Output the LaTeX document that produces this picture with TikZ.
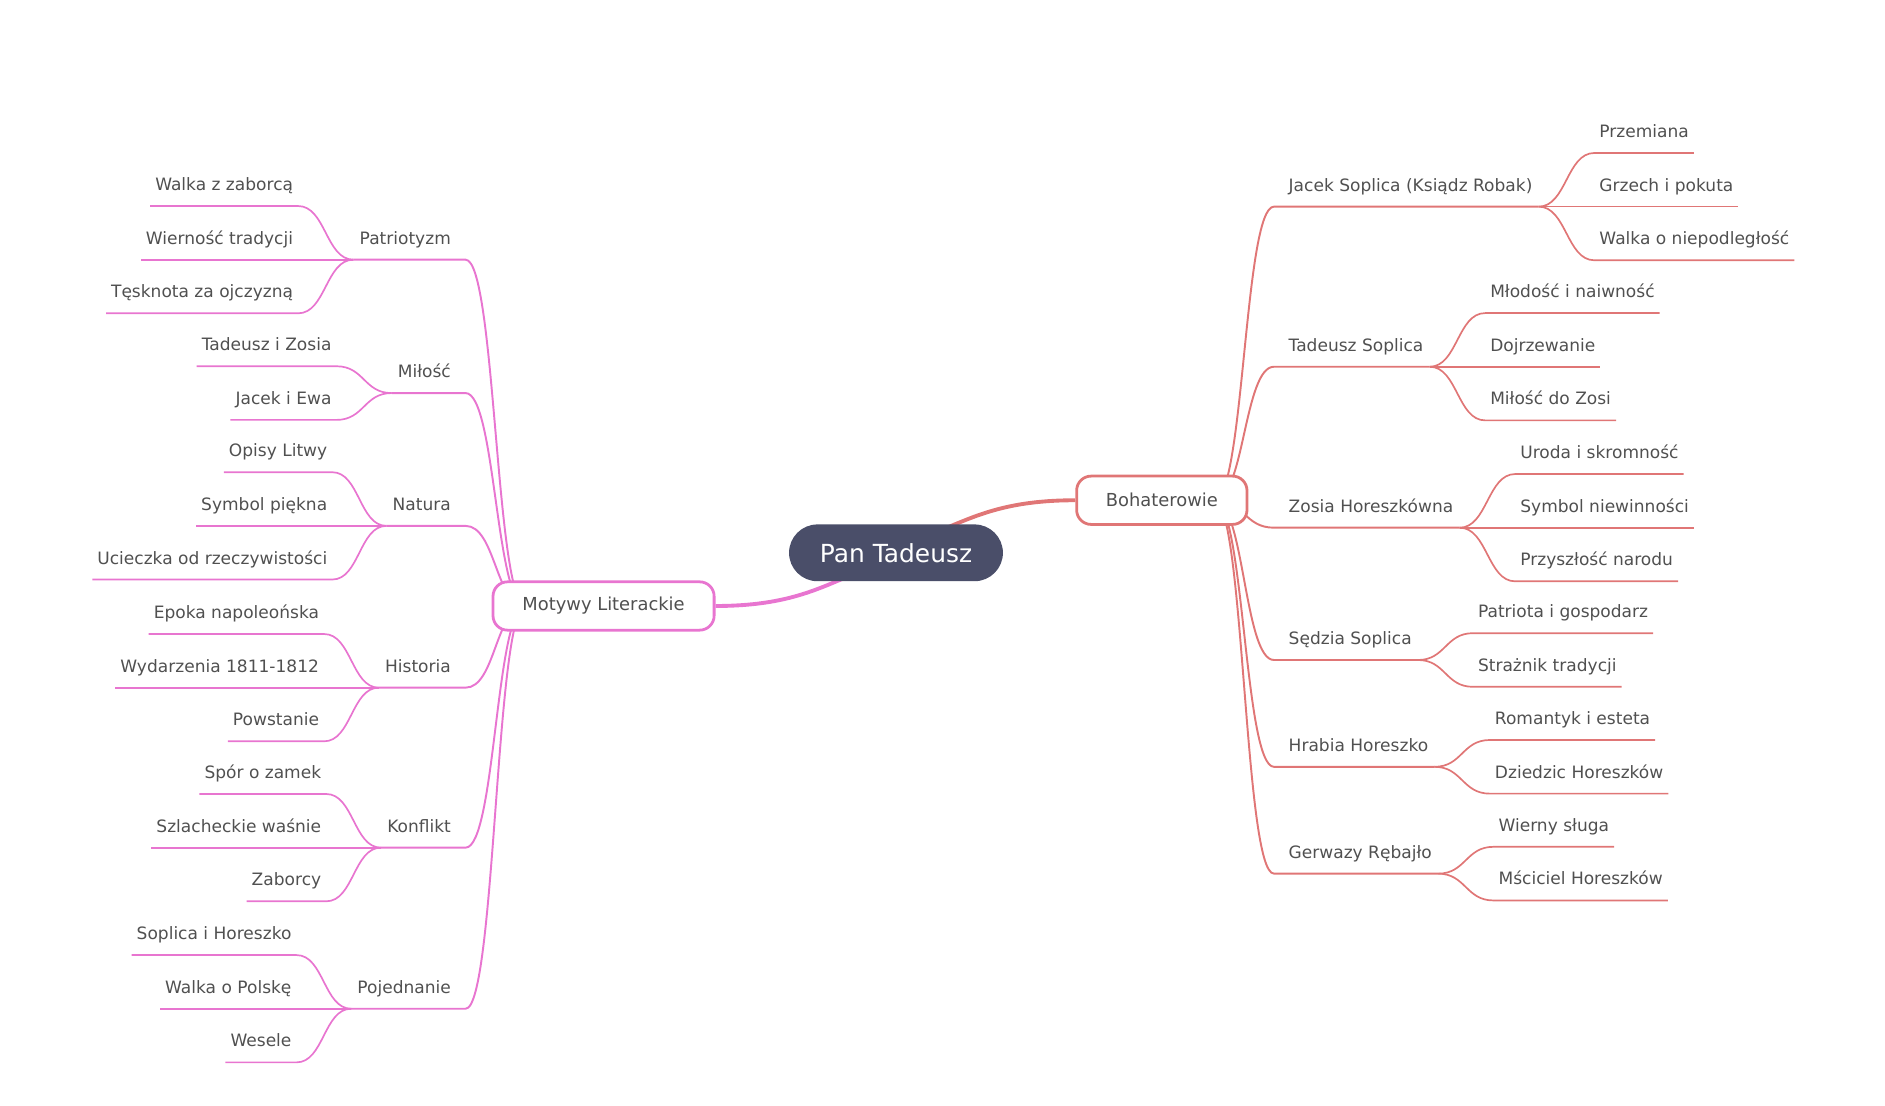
\documentclass[tikz,border=0pt]{standalone}
\usepackage{fontspec}
\setmainfont{DejaVu Sans}
\usetikzlibrary{calc,backgrounds}

\definecolor{rootfill}{RGB}{74,78,105}
\definecolor{heroline}{RGB}{224,118,118}
\definecolor{motifline}{RGB}{232,117,208}
\definecolor{labelgray}{RGB}{80,80,80}

\tikzset{
  mlink/.style={to path={let \p1=(\tikztostart), \p2=(\tikztotarget) in
    .. controls ({(\x1+\x2)/2},\y1) and ({(\x1+\x2)/2},\y2) .. (\tikztotarget)}}
}

\begin{document}
\begin{tikzpicture}[
		x=1pt, y=-1pt,
		every node/.style={text=labelgray, font=\fontsize{14.1}{16}\selectfont},
		leaf/.style={inner xsep=4pt, inner ysep=0pt, text height=10pt, text depth=12.6pt},
		topic/.style={leaf, inner xsep=5pt},
		branchbox/.style={draw, fill=white, line width=2.3pt, rounded corners=12pt, minimum height=40pt, font=\fontsize{14.8}{17}\selectfont},
		hero/.style={heroline, line width=1.6pt},
		motif/.style={motifline, line width=1.6pt}
	]
  \useasboundingbox (0,0) rectangle (1560,915.3);
  \node (root) [fill=rootfill, text=white, font=\fontsize{20.6}{24}\selectfont, rounded corners=23.5pt, minimum width=177pt, minimum height=47pt] at (741.5,457.5) {Pan Tadeusz};
  \node (bohat) [branchbox, draw=heroline, minimum width=141pt] at (961.5,414) {Bohaterowie};
  \node (motywy) [branchbox, draw=motifline, minimum width=183pt] at (499.5,501.5) {Motywy Literackie};
  \coordinate (rootR) at (682,457.5);
  \coordinate (rootL) at (800,457.5);
  \coordinate (bsrc) at (1005,414);
  \coordinate (msrc) at (435,501.5);
  % Bohaterowie
  \node (jacek) [topic, anchor=south west] at (1061.3,171) {Jacek Soplica (Ksiądz Robak)};
  \node (tadeusz) [topic, anchor=south west] at (1061.3,303.5) {Tadeusz Soplica};
  \node (zosia) [topic, anchor=south west] at (1061.3,436.7) {Zosia Horeszkówna};
  \node (sedzia) [topic, anchor=south west] at (1061.3,546.2) {Sędzia Soplica};
  \node (hrabia) [topic, anchor=south west] at (1061.3,634.6) {Hrabia Horeszko};
  \node (gerwazy) [topic, anchor=south west] at (1061.3,723) {Gerwazy Rębajło};
  \node (przem) [leaf, anchor=south west] at (1319.5,126.6) {Przemiana};
  \node (grzech) [leaf, anchor=south west] at (1319.5,171) {Grzech i pokuta};
  \node (walkan) [leaf, anchor=south west] at (1319.5,215.4) {Walka o niepodległość};
  \node (mlodosc) [leaf, anchor=south west] at (1229.1,259.1) {Młodość i naiwność};
  \node (dojrz) [leaf, anchor=south west] at (1229.1,303.5) {Dojrzewanie};
  \node (milzosi) [leaf, anchor=south west] at (1229.1,347.9) {Miłość do Zosi};
  \node (uroda) [leaf, anchor=south west] at (1254,392.3) {Uroda i skromność};
  \node (symbn) [leaf, anchor=south west] at (1254,436.7) {Symbol niewinności};
  \node (przysz) [leaf, anchor=south west] at (1254,481.1) {Przyszłość narodu};
  \node (patriota) [leaf, anchor=south west] at (1219,524) {Patriota i gospodarz};
  \node (straznik) [leaf, anchor=south west] at (1219,568.4) {Strażnik tradycji};
  \node (romant) [leaf, anchor=south west] at (1233,612.4) {Romantyk i esteta};
  \node (dziedzic) [leaf, anchor=south west] at (1233,656.8) {Dziedzic Horeszków};
  \node (wierny) [leaf, anchor=south west] at (1236,700.8) {Wierny sługa};
  \node (msciciel) [leaf, anchor=south west] at (1236,745.2) {Mściciel Horeszków};
  % Motywy Literackie
  \node (patr) [topic, anchor=south east] at (378.3,214.9) {Patriotyzm};
  \node (milosc) [topic, anchor=south east] at (378.3,325.3) {Miłość};
  \node (natura) [topic, anchor=south east] at (378.3,435.2) {Natura};
  \node (historia) [topic, anchor=south east] at (378.3,569.1) {Historia};
  \node (konflikt) [topic, anchor=south east] at (378.3,701.5) {Konflikt};
  \node (pojedn) [topic, anchor=south east] at (378.3,834.8) {Pojednanie};
  \node (walkaz) [leaf, anchor=south east] at (246.7,170.5) {Walka z zaborcą};
  \node (wiern) [leaf, anchor=south east] at (246.7,214.9) {Wierność tradycji};
  \node (tesk) [leaf, anchor=south east] at (246.7,259.3) {Tęsknota za ojczyzną};
  \node (tadzos) [leaf, anchor=south east] at (278.5,303.1) {Tadeusz i Zosia};
  \node (jacewa) [leaf, anchor=south east] at (278.5,347.5) {Jacek i Ewa};
  \node (opisy) [leaf, anchor=south east] at (275,390.8) {Opisy Litwy};
  \node (symbp) [leaf, anchor=south east] at (275,435.2) {Symbol piękna};
  \node (ucieczka) [leaf, anchor=south east] at (275,479.6) {Ucieczka od rzeczywistości};
  \node (epoka) [leaf, anchor=south east] at (268.2,524.7) {Epoka napoleońska};
  \node (wydarz) [leaf, anchor=south east] at (268.2,569.1) {Wydarzenia 1811-1812};
  \node (powst) [leaf, anchor=south east] at (268.2,613.5) {Powstanie};
  \node (spor) [leaf, anchor=south east] at (270,657.1) {Spór o zamek};
  \node (szlach) [leaf, anchor=south east] at (270,701.5) {Szlacheckie waśnie};
  \node (zaborcy) [leaf, anchor=south east] at (270,745.9) {Zaborcy};
  \node (soplh) [leaf, anchor=south east] at (245.4,790.4) {Soplica i Horeszko};
  \node (walkap) [leaf, anchor=south east] at (245.4,834.8) {Walka o Polskę};
  \node (wesele) [leaf, anchor=south east] at (245.4,879.2) {Wesele};
  \begin{scope}[on background layer]
  \draw[hero, line width=3.2pt] (rootR) to[mlink] (bohat.west);
  \draw[motif, line width=3.2pt] (rootL) to[mlink] (motywy.east);
  % Bohaterowie links
  \draw[hero] (bsrc) to[mlink] ([xshift=-7pt]jacek.south west) -- (jacek.south east);
  \draw[hero] (bsrc) to[mlink] ([xshift=-7pt]tadeusz.south west) -- (tadeusz.south east);
  \draw[hero] (bsrc) to[mlink] ([xshift=-7pt]zosia.south west) -- (zosia.south east);
  \draw[hero] (bsrc) to[mlink] ([xshift=-7pt]sedzia.south west) -- (sedzia.south east);
  \draw[hero] (bsrc) to[mlink] ([xshift=-7pt]hrabia.south west) -- (hrabia.south east);
  \draw[hero] (bsrc) to[mlink] ([xshift=-7pt]gerwazy.south west) -- (gerwazy.south east);
  \draw[hero, line width=1.4pt] (jacek.south east) to[mlink] (przem.south west) -- (przem.south east);
  \draw[hero, line width=1.4pt] (jacek.south east) to[mlink] (grzech.south west) -- (grzech.south east);
  \draw[hero, line width=1.4pt] (jacek.south east) to[mlink] (walkan.south west) -- (walkan.south east);
  \draw[hero, line width=1.4pt] (tadeusz.south east) to[mlink] (mlodosc.south west) -- (mlodosc.south east);
  \draw[hero, line width=1.4pt] (tadeusz.south east) to[mlink] (dojrz.south west) -- (dojrz.south east);
  \draw[hero, line width=1.4pt] (tadeusz.south east) to[mlink] (milzosi.south west) -- (milzosi.south east);
  \draw[hero, line width=1.4pt] (zosia.south east) to[mlink] (uroda.south west) -- (uroda.south east);
  \draw[hero, line width=1.4pt] (zosia.south east) to[mlink] (symbn.south west) -- (symbn.south east);
  \draw[hero, line width=1.4pt] (zosia.south east) to[mlink] (przysz.south west) -- (przysz.south east);
  \draw[hero, line width=1.4pt] (sedzia.south east) to[mlink] (patriota.south west) -- (patriota.south east);
  \draw[hero, line width=1.4pt] (sedzia.south east) to[mlink] (straznik.south west) -- (straznik.south east);
  \draw[hero, line width=1.4pt] (hrabia.south east) to[mlink] (romant.south west) -- (romant.south east);
  \draw[hero, line width=1.4pt] (hrabia.south east) to[mlink] (dziedzic.south west) -- (dziedzic.south east);
  \draw[hero, line width=1.4pt] (gerwazy.south east) to[mlink] (wierny.south west) -- (wierny.south east);
  \draw[hero, line width=1.4pt] (gerwazy.south east) to[mlink] (msciciel.south west) -- (msciciel.south east);
  % Motywy links
  \draw[motif] (msrc) to[mlink] ([xshift=7pt]patr.south east) -- (patr.south west);
  \draw[motif] (msrc) to[mlink] ([xshift=7pt]milosc.south east) -- (milosc.south west);
  \draw[motif] (msrc) to[mlink] ([xshift=7pt]natura.south east) -- (natura.south west);
  \draw[motif] (msrc) to[mlink] ([xshift=7pt]historia.south east) -- (historia.south west);
  \draw[motif] (msrc) to[mlink] ([xshift=7pt]konflikt.south east) -- (konflikt.south west);
  \draw[motif] (msrc) to[mlink] ([xshift=7pt]pojedn.south east) -- (pojedn.south west);
  \draw[motif, line width=1.4pt] (patr.south west) to[mlink] (walkaz.south east) -- (walkaz.south west);
  \draw[motif, line width=1.4pt] (patr.south west) to[mlink] (wiern.south east) -- (wiern.south west);
  \draw[motif, line width=1.4pt] (patr.south west) to[mlink] (tesk.south east) -- (tesk.south west);
  \draw[motif, line width=1.4pt] (milosc.south west) to[mlink] (tadzos.south east) -- (tadzos.south west);
  \draw[motif, line width=1.4pt] (milosc.south west) to[mlink] (jacewa.south east) -- (jacewa.south west);
  \draw[motif, line width=1.4pt] (natura.south west) to[mlink] (opisy.south east) -- (opisy.south west);
  \draw[motif, line width=1.4pt] (natura.south west) to[mlink] (symbp.south east) -- (symbp.south west);
  \draw[motif, line width=1.4pt] (natura.south west) to[mlink] (ucieczka.south east) -- (ucieczka.south west);
  \draw[motif, line width=1.4pt] (historia.south west) to[mlink] (epoka.south east) -- (epoka.south west);
  \draw[motif, line width=1.4pt] (historia.south west) to[mlink] (wydarz.south east) -- (wydarz.south west);
  \draw[motif, line width=1.4pt] (historia.south west) to[mlink] (powst.south east) -- (powst.south west);
  \draw[motif, line width=1.4pt] (konflikt.south west) to[mlink] (spor.south east) -- (spor.south west);
  \draw[motif, line width=1.4pt] (konflikt.south west) to[mlink] (szlach.south east) -- (szlach.south west);
  \draw[motif, line width=1.4pt] (konflikt.south west) to[mlink] (zaborcy.south east) -- (zaborcy.south west);
  \draw[motif, line width=1.4pt] (pojedn.south west) to[mlink] (soplh.south east) -- (soplh.south west);
  \draw[motif, line width=1.4pt] (pojedn.south west) to[mlink] (walkap.south east) -- (walkap.south west);
  \draw[motif, line width=1.4pt] (pojedn.south west) to[mlink] (wesele.south east) -- (wesele.south west);
  \end{scope}
\end{tikzpicture}
\end{document}
